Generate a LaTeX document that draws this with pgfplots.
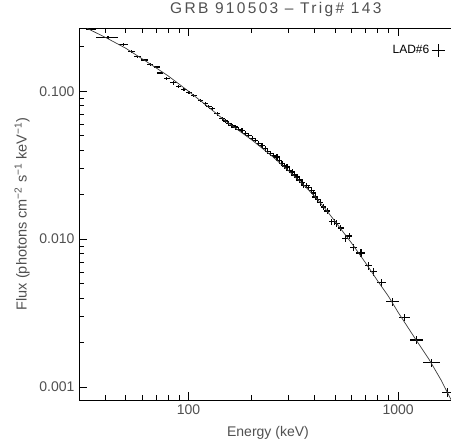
\documentclass[border=0pt]{standalone}
\usepackage{pgfplots}
\pgfplotsset{compat=1.18}
\usepackage{pgfplotstable}
\usepackage{fontspec}
\setmainfont{Liberation Sans}
\newfontfamily\titlefont[LetterSpace=15]{Liberation Sans}
\definecolor{txt}{RGB}{80,80,80}

\pgfplotstableread{
E F dx dy
34.4 0.262 0.055 0.02
41.3 0.231 0.12 0.02
49.0 0.208 0.045 0.02
53.3 0.186 0.04 0.02
57.3 0.171 0.04 0.02
61.7 0.163 0.04 0.02
65.7 0.152 0.035 0.02
70.6 0.146 0.035 0.02
73.3 0.133 0.035 0.02
78.8 0.122 0.035 0.02
84.8 0.114 0.035 0.025
89.5 0.108 0.03 0.025
95.0 0.103 0.03 0.025
100.5 0.098 0.03 0.025
106 0.094 0.03 0.025
114 0.087 0.03 0.025
120.5 0.0826 0.03 0.03
125 0.0790 0.032 0.03
129.7 0.0764 0.032 0.03
137 0.0707 0.032 0.03
144.7 0.0654 0.032 0.03
150 0.0630 0.032 0.03
155.6 0.0605 0.032 0.035
161 0.0585 0.032 0.035
167 0.0574 0.032 0.035
173 0.0555 0.032 0.035
180 0.0545 0.032 0.035
187 0.0520 0.032 0.035
194 0.0505 0.032 0.035
201 0.0480 0.032 0.035
208 0.0467 0.032 0.035
216 0.0443 0.032 0.04
224 0.0428 0.032 0.04
232 0.0410 0.032 0.04
239 0.0393 0.032 0.04
246 0.0379 0.032 0.04
255 0.0368 0.032 0.04
264 0.0360 0.032 0.04
271 0.0340 0.032 0.04
279 0.0325 0.032 0.045
287 0.0312 0.032 0.045
295 0.0308 0.032 0.045
303 0.0292 0.032 0.045
312 0.0285 0.032 0.045
320 0.0272 0.032 0.045
329 0.0263 0.032 0.045
338 0.0251 0.032 0.045
348 0.0243 0.032 0.045
354 0.0231 0.032 0.045
367 0.0231 0.032 0.045
373 0.0224 0.032 0.045
387 0.0214 0.032 0.045
395 0.0205 0.032 0.045
402 0.0193 0.032 0.045
413 0.0186 0.032 0.045
425 0.0176 0.032 0.05
441 0.0165 0.032 0.05
460 0.0155 0.032 0.05
483 0.0131 0.032 0.05
496 0.0131 0.032 0.05
510 0.0128 0.032 0.05
533 0.0119 0.032 0.05
560 0.0101 0.035 0.05
585 0.0105 0.035 0.05
612 0.0088 0.035 0.055
665 0.00807 0.05 0.055
722 0.0066 0.035 0.06
762 0.00601 0.035 0.06
836 0.00509 0.05 0.06
940 0.00377 0.07 0.06
1071 0.00296 0.06 0.06
1227 0.00208 0.07 0.065
1446 0.00146 0.095 0.065
1717 0.000916 0.06 0.07
}\spectrum

\pgfplotstableread{
E F
32.7 0.267
40 0.232
50 0.196
60 0.166
70 0.144
80 0.127
90 0.112
100 0.100
120 0.0815
150 0.0630
200 0.0470
250 0.0365
300 0.0290
350 0.0236
400 0.0195
450 0.0160
500 0.0132
600 0.0094
700 0.0069
800 0.0052
900 0.0041
1000 0.0032
1200 0.00215
1400 0.00155
1600 0.00112
1790 0.00082
}\fit

\begin{document}
\begin{tikzpicture}
\path[use as bounding box] (-79pt,-41pt) rectangle (372pt,400pt);
\begin{axis}[
  at={(0pt,0pt)}, anchor=south west,
  scale only axis, width=372pt, height=372pt,
  xmode=log, ymode=log,
  xmin=30, xmax=1788, ymin=0.000817, ymax=0.268,
  axis x line*=box, axis y line*=left,
  y axis line style={-},
  axis line style={line width=0.9pt, black},
  tick align=inside,
  major tick length=8pt, minor tick length=5pt,
  every tick/.style={black, line width=0.8pt},
  xtick={100,1000}, xticklabels={100,1000},
  minor xtick={40,50,60,70,80,90,200,300,400,500,600,700,800,900},
  ytick={0.001,0.01,0.1}, yticklabels={0.001,0.010,0.100},
  minor ytick={0.002,0.003,0.004,0.005,0.006,0.007,0.008,0.009,0.02,0.03,0.04,0.05,0.06,0.07,0.08,0.09,0.2},
  tick label style={font=\fontsize{14}{16}\selectfont, text=txt},
  xticklabel style={yshift=-1pt},
  yticklabel style={xshift=-1pt},
  title={GRB 910503 – Trig\# 143},
  title style={at={(axis description cs:0.529,1)}, anchor=base, yshift=8pt, font=\titlefont\fontsize{15.5}{18}\selectfont, text=txt},
  xlabel={Energy (keV)},
  xlabel style={at={(axis description cs:0.508,-0.089)}, anchor=center, font=\fontsize{14}{16}\selectfont, text=txt},
  ylabel={Flux (photons cm\textsuperscript{−2} s\textsuperscript{−1} keV\textsuperscript{−1})},
  ylabel style={at={(axis description cs:-0.153,0.5)}, anchor=center, font=\fontsize{14.5}{16}\selectfont, text=txt},
  legend plot pos=right,
  legend style={at={(axis description cs:0.985,0.94)}, anchor=east, draw=none, fill=none,
    font=\fontsize{12}{14}\selectfont, text=black, inner sep=0pt},
  legend image code/.code={\draw[black, line width=0.9pt] (0pt,0pt) -- (13pt,0pt) (6.5pt,-6.5pt) -- (6.5pt,6.5pt);},
]
\addplot[draw=none, mark=none,
  error bars/.cd, x dir=both, x explicit relative, y dir=both, y explicit relative,
  error mark=none, error bar style={draw=black, line width=1.2pt}]
  table[x=E, y=F, x error=dx, y error=dy] {\spectrum};
\addlegendentry{LAD\#6}
\addplot[no marks, line width=0.7pt, color={rgb,255:red,60;green,60;blue,60}, forget plot] table[x=E, y=F] {\fit};
\end{axis}
\end{tikzpicture}
\end{document}
